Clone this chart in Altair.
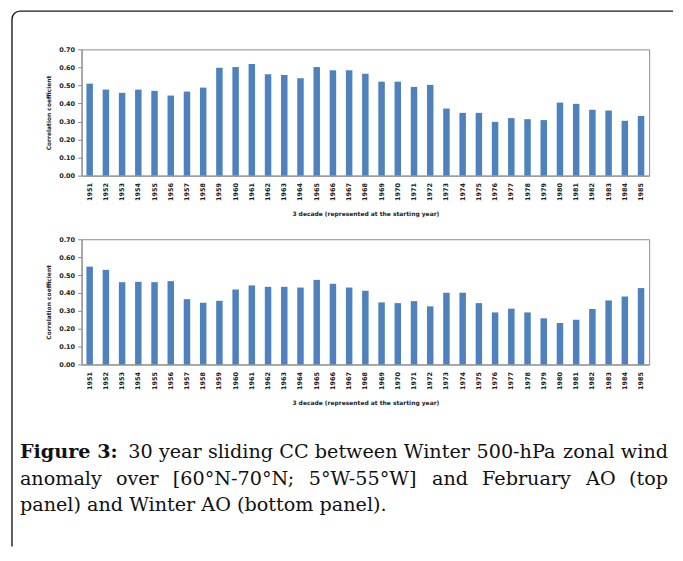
import altair as alt
import pandas as pd

# ---------------- data ----------------
years = [str(y) for y in range(1951, 1986)]
feb_ao_cc = [0.510, 0.477, 0.459, 0.477, 0.470, 0.444, 0.466, 0.488, 0.598, 0.602,
             0.619, 0.562, 0.558, 0.540, 0.602, 0.584, 0.584, 0.565, 0.521, 0.521,
             0.492, 0.503, 0.372, 0.348, 0.348, 0.298, 0.319, 0.313, 0.308, 0.405,
             0.398, 0.365, 0.361, 0.304, 0.331]
winter_ao_cc = [0.547, 0.529, 0.460, 0.462, 0.460, 0.466, 0.365, 0.345, 0.356, 0.419,
                0.442, 0.434, 0.434, 0.430, 0.473, 0.451, 0.430, 0.412, 0.347, 0.343,
                0.354, 0.325, 0.401, 0.401, 0.343, 0.291, 0.312, 0.291, 0.258, 0.232,
                0.250, 0.310, 0.358, 0.380, 0.427]
y_ticks = [0.0, 0.1, 0.2, 0.3, 0.4, 0.5, 0.6, 0.7]
y_title = "Correlation coefficient"
x_title = "3 decade (represented at the starting year)"

caption_bold = "Figure 3:"
caption_line1 = ["30", "year", "sliding", "CC", "between", "Winter", "500-hPa", "zonal", "wind"]
caption_line2 = ["anomaly", "over", "[60°N-70°N;", "5°W-55°W]", "and", "February", "AO", "(top"]
caption_line3 = "panel) and Winter AO (bottom panel)."

# ---------------- style / layout ----------------
BAR = "#4F81BD"
GRID = "#8c8c8c"
TXT = "#222222"
INK = "#111111"
PW = 571
SERIF = "DejaVu Serif"
CAP_SIZE = 19.3

# approximate advance widths (em) of DejaVu Serif, for justifying caption lines
ADV = {' ': .318, 'a': .596, 'b': .640, 'c': .560, 'd': .640, 'e': .592, 'f': .370, 'g': .640,
       'h': .644, 'i': .320, 'j': .310, 'k': .606, 'l': .320, 'm': .948, 'n': .644, 'o': .602,
       'p': .640, 'q': .640, 'r': .478, 's': .513, 't': .402, 'u': .644, 'v': .565, 'w': .856,
       'x': .564, 'y': .565, 'z': .527, 'A': .722, 'C': .765, 'F': .694, 'N': .872, 'O': .787,
       'P': .704, 'W': 1.028, '[': .390, ']': .390, '(': .390, ')': .390, '-': .338, ';': .337,
       ':': .337, '°': .500, '.': .318}
for d in "0123456789":
    ADV[d] = .636


def tw(s):
    return sum(ADV.get(c, .6) for c in s) * CAP_SIZE


def justify(words, x0, x1):
    widths = [tw(w) for w in words]
    gap = (x1 - x0 - sum(widths)) / (len(words) - 1)
    xs, x = [], x0
    for w in widths:
        xs.append(x)
        x += w + gap
    return xs


# caption panel origin (page coords) is (82, 429); positions below are relative
OX, OY = 82, 429
rows = []
for w, x in zip(caption_line1, justify(caption_line1, 129 - OX, 672 - OX)):
    rows.append({"w": w, "x": x, "y": 459 - OY})
for w, x in zip(caption_line2, justify(caption_line2, 20 - OX, 672 - OX)):
    rows.append({"w": w, "x": x, "y": 486 - OY})
rows.append({"w": caption_line3, "x": 20 - OX, "y": 512 - OY})
cap_df = pd.DataFrame(rows)
bold_df = pd.DataFrame({"w": [caption_bold], "x": [20 - OX], "y": [459 - OY]})


def bar_panel(values, h):
    df = pd.DataFrame({"year": years, "cc": values})
    return alt.Chart(df).mark_bar(color=BAR).encode(
        x=alt.X("year:N", sort=None,
                scale=alt.Scale(paddingInner=0.6, paddingOuter=0.3),
                axis=alt.Axis(title=x_title, labelAngle=270, ticks=False, labelPadding=7,
                              labelOverlap=False, labelFont="DejaVu Sans", labelFontWeight="bold",
                              labelFontSize=6.5, labelColor=TXT, domainColor=GRID,
                              titleFont="DejaVu Sans", titleFontWeight="bold", titleFontSize=6,
                              titleColor=TXT, titleX=PW / 2, titleY=38, titleBaseline="middle",
                              titleAlign="center")),
        y=alt.Y("cc:Q", scale=alt.Scale(domain=[0, 0.7]),
                axis=alt.Axis(values=y_ticks, format=".2f", grid=False, tickSize=4,
                              tickColor=GRID, domainColor=GRID, labelPadding=3,
                              labelFont="DejaVu Sans", labelFontWeight="bold", labelFontSize=6.5,
                              labelColor=TXT, title=y_title, titleFont="DejaVu Sans",
                              titleFontWeight="bold", titleFontSize=6, titleColor=TXT,
                              titleX=-33, titleY=h / 2, titleAngle=270, titleBaseline="middle",
                              titleAlign="center")),
    ).properties(width=PW, height=h, view=alt.ViewBackground(stroke=GRID, strokeWidth=1))


top = bar_panel(feb_ao_cc, 127)
bottom = bar_panel(winter_ao_cc, 126)

cap_text = alt.Chart(cap_df).mark_text(font=SERIF, fontSize=CAP_SIZE, align="left",
                                       baseline="alphabetic", color=INK).encode(
    x=alt.X("x:Q", scale=None, axis=None),
    y=alt.Y("y:Q", scale=None, axis=None),
    text="w:N",
)
cap_bold = alt.Chart(bold_df).mark_text(font=SERIF, fontSize=CAP_SIZE, fontWeight="bold",
                                        align="left", baseline="alphabetic",
                                        color=INK).encode(
    x=alt.X("x:Q", scale=None, axis=None),
    y=alt.Y("y:Q", scale=None, axis=None),
    text="w:N",
)

# figure frame: top edge, left edge and the rounded top-left corner
one = pd.DataFrame({"k": [0]})
FL, FT, R = 12.0, 9.5, 8.0
frame_top = alt.Chart(one).mark_rule(color="#1a1a1a", strokeWidth=1.4).encode(
    x=alt.value(FL + R - OX), x2=alt.value(677 - OX), y=alt.value(FT - OY))
frame_left = alt.Chart(one).mark_rule(color="#1a1a1a", strokeWidth=1.4).encode(
    x=alt.value(FL - OX), y=alt.value(FT + R - OY), y2=alt.value(548 - OY))
frame_corner = alt.Chart(one).mark_arc(
    radius=R, radius2=R, theta=4.71239, theta2=6.28319, fillOpacity=0,
    stroke="#1a1a1a", strokeWidth=1.4).encode(
    x=alt.value(FL + R - OX), y=alt.value(FT + R - OY))

caption = alt.layer(frame_top, frame_left, frame_corner, cap_text, cap_bold).properties(
    width=PW, height=100)

chart = alt.vconcat(top, bottom, caption, spacing=64, bounds="flush").properties(
    padding={"left": 0, "top": -2, "right": 0, "bottom": 0},
    background="white",
).configure_view(stroke="transparent")

chart.save("out.html", embed_options={"renderer": "svg", "actions": False})
